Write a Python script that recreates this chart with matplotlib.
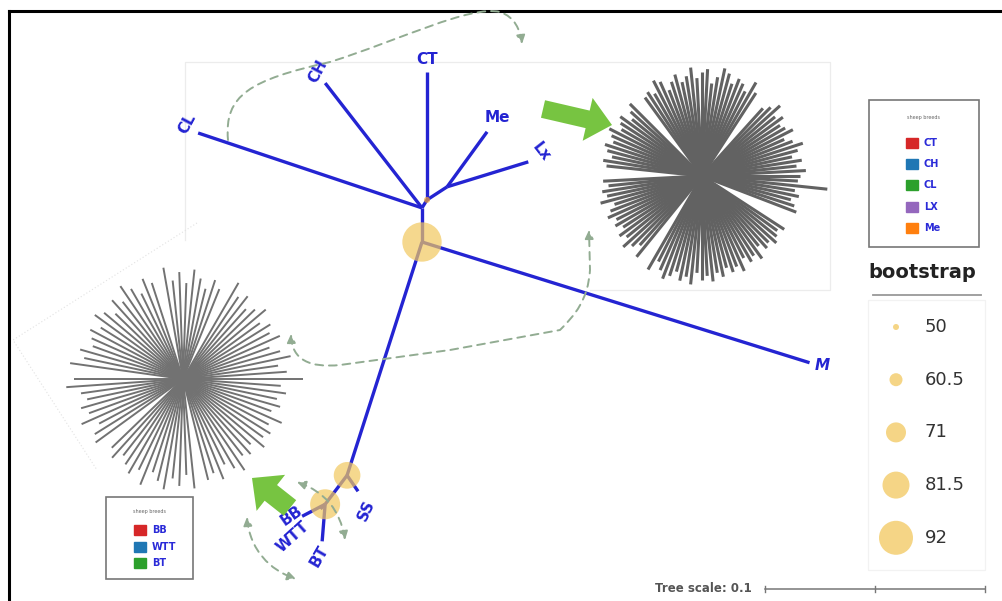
import numpy as np
import matplotlib
matplotlib.use("Agg")
import matplotlib.pyplot as plt
from matplotlib.patches import Circle, Rectangle, FancyArrowPatch
from matplotlib.path import Path

# unrooted tree of the sheep breeds (branch lengths in substitutions/site)
branch_parent = ['B', 'B', 'A', 'A', 'A', 'E', 'E', 'F', 'F', 'B', 'C', 'C', 'D', 'D', 'D']
branch_child = ['M', 'A', 'CL', 'CH', 'E', 'CT', 'F', 'Me', 'Lx', 'C', 'SS', 'D', 'BB', 'WTT', 'BT']
branch_length = [0.1845, 0.0155, 0.1073, 0.0718, 0.0043, 0.0582, 0.0109, 0.0309,
                 0.0386, 0.1114, 0.0088, 0.0165, 0.0118, 0.003, 0.0169]
branch_angle = [-17.3, 90, 161.5, 127.8, 58, 90, 33, 54, 17.1, -107.8, -55.5, -127.2,
                -152.4, -135, -94.6]

support_nodes = ['B', 'E', 'C', 'D']
support_values = [100, 50, 81, 86]

legend_support = [50, 60.5, 71, 81.5, 92]

breeds_top = ['CT', 'CH', 'CL', 'LX', 'Me']
breeds_bottom = ['BB', 'WTT', 'BT']
breed_colors = ['#d62728', '#1f77b4', '#2ca02c', '#9467bd', '#ff7f0e']

# leaf lengths of the two within-group subtrees (px, evenly spread round the centre;
# 0 = empty slot between clades)
star_right = [98, 104, 95, 101, 92, 99, 106, 97, 90, 102, 96, 93,
              100, 94, 105, 97, 91, 0, 0, 99, 108, 95, 101, 104,
              97, 106, 110, 100, 93, 107, 104, 98, 109, 101, 96, 105,
              99, 92, 103, 107, 95, 100, 97, 0, 0, 102, 96, 90,
              101, 97, 93, 104, 99, 95, 102, 98, 92, 100, 96, 0,
              0, 99, 94, 101, 97, 105, 92, 98, 103, 96, 100, 94,
              102, 97, 106, 99, 93, 104, 0, 0, 108, 96, 103, 110,
              105, 99, 107, 102, 109, 97, 104, 100, 106, 98, 103, 95,
              101, 97, 104, 92, 99, 95, 102, 90, 97, 94, 100, 96,
              93, 98, 0, 0, 0, 101, 97, 92, 99, 94, 126, 96]
star_left = [120, 104, 96, 110, 101, 92, 106, 98, 103, 95,
             108, 100, 94, 105, 99, 111, 0, 97, 104, 93,
             102, 110, 96, 107, 99, 113, 0, 101, 108, 95,
             104, 112, 98, 106, 94, 103, 109, 97, 105, 100,
             96, 107, 101, 114, 0, 109, 117, 103, 98, 106,
             100, 111, 95, 104, 108, 0, 99, 106, 97, 103,
             109, 101, 114, 98, 105, 112, 100, 107, 96, 110,
             0, 104, 99, 108, 95, 103, 110, 97, 101, 94,
             106, 99, 103, 97, 108, 94, 101, 96, 104, 98]

PX = 2200.0          # pixels per unit of branch length (0.1 -> 220 px)
ROOT = (422, 242)
BLUE = '#2424d2'
GOLD = '#f2c85e'
DASH = '#92ac92'


def support_radius(b):
    return 3 + (b - 50) / 42.0 * 14


fig = plt.figure(figsize=(10.03, 6.01), dpi=100)
ax = fig.add_axes([0, 0, 1, 1])
ax.set_xlim(0, 1003)
ax.set_ylim(601, 0)
ax.set_aspect('equal')
ax.axis('off')

# outer frame
ax.plot([9.5, 9.5], [601, 10.5], color='black', lw=2.2)
ax.plot([9.5, 1003], [10.5, 10.5], color='black', lw=2.2)

# faint panel outlines
faint = '#ececec'
ax.plot([185, 185, 830, 830, 590], [240, 62, 62, 290, 290], color=faint, lw=0.9)
ax.plot([197, 13, 97], [223, 340, 470], color='#e2e2e2', lw=0.8, ls=(0, (1, 2)))
ax.add_patch(Rectangle((868, 300), 117, 270, fill=False, ec='#f2f2f2', lw=0.9))

# --- main tree ---
pos = {'B': ROOT}
for p, c, L, a in zip(branch_parent, branch_child, branch_length, branch_angle):
    x0, y0 = pos[p]
    r = L * PX
    x1 = x0 + r * np.cos(np.radians(a))
    y1 = y0 - r * np.sin(np.radians(a))
    pos[c] = (x1, y1)
    ax.plot([x0, x1], [y0, y1], color=BLUE, lw=2.4, solid_capstyle='butt', zorder=3)

for n, b in zip(support_nodes, support_values):
    col = '#f0a030' if b <= 50 else GOLD
    ax.add_patch(Circle(pos[n], support_radius(b), color=col, alpha=0.7, lw=0, zorder=4))

leaf_labels = ['CL', 'CH', 'CT', 'Me', 'Lx', 'M', 'SS', 'BB', 'WTT', 'BT']
label_xy = [(187, 124), (318, 71), (427, 60), (497, 118), (541, 152),
            (822, 366), (366, 510), (292, 516), (293, 537), (319, 556)]
label_rot = [62, 62, 0, 0, -52, 0, 65, 35, 42, 60]
for t, (x, y), r in zip(leaf_labels, label_xy, label_rot):
    ax.text(x, y, t, color=BLUE, fontsize=11, fontweight='bold', rotation=r,
            style='italic' if t == 'M' else 'normal',
            ha='center', va='center', rotation_mode='anchor', zorder=5)

# --- within-group subtrees ---
def draw_star(cx, cy, lengths, color, lw):
    ang = np.linspace(0, 2 * np.pi, len(lengths), endpoint=False)
    for a, L in zip(ang, lengths):
        if L == 0:
            continue
        ax.plot([cx, cx + L * np.cos(a)], [cy, cy - L * np.sin(a)],
                color=color, lw=lw, solid_capstyle='butt', zorder=2)

draw_star(702, 176, star_right, '#626262', 2.2)
draw_star(183, 379, star_left, '#727272', 1.4)

# --- big green arrows ---
ax.arrow(543, 109, 69, 16, width=18, head_width=44, head_length=25,
         length_includes_head=True, color='#77c441', lw=0, zorder=5)
ax.arrow(290, 508, -38, -30, width=20, head_width=46, head_length=24,
         length_includes_head=True, color='#77c441', lw=0, zorder=5)

# --- dashed guide arrows ---
C4 = Path.CURVE4
guides = [
    ([(228, 140), (224, 95), (250, 80), (330, 62), (400, 40), (470, 5), (500, 12),
      (515, 17), (520, 30), (522, 44)],
     [Path.MOVETO, C4, C4, C4, C4, C4, C4, C4, C4, C4], '-|>'),
    ([(291, 334), (292, 360), (310, 368), (340, 365), (450, 350), (560, 330),
      (575, 315), (588, 300), (590, 270), (589, 230)],
     [Path.MOVETO, C4, C4, C4, Path.LINETO, Path.LINETO, C4, C4, C4, Path.LINETO], '<|-|>'),
    ([(297, 482), (325, 492), (340, 510), (345, 540)],
     [Path.MOVETO, C4, C4, C4], '<|-|>'),
    ([(247, 517), (250, 550), (270, 570), (296, 579)],
     [Path.MOVETO, C4, C4, C4], '<|-|>'),
]
for verts, codes, style in guides:
    ax.add_patch(FancyArrowPatch(path=Path(verts, codes),
                                 arrowstyle=style + ',head_length=5,head_width=2.5',
                                 color=DASH, lw=1.4, ls=(0, (4, 3)), zorder=6))

# --- breed legends ---
def breed_box(x, y, w, h, names, row0, dy, title_y):
    ax.add_patch(Rectangle((x, y), w, h, fill=False, ec='#777777', lw=1.2, zorder=5))
    ax.text(x + w / 2, title_y, 'sheep breeds', fontsize=3.5, color='#666666',
            ha='center', va='center')
    for i, (n, c) in enumerate(zip(names, breed_colors)):
        yy = row0 + i * dy
        ax.add_patch(Rectangle((x + w * 0.39 - 6, yy - 5), 12, 10, color=c, zorder=6))
        ax.text(x + w * 0.39 + 12, yy, n, fontsize=7, fontweight='bold',
                color='#2a2ad8', ha='left', va='center')

breed_box(869, 100, 110, 147, breeds_top, 143, 21.2, 118)
breed_box(106, 497, 87, 82, breeds_bottom, 530, 16.5, 511)

# --- bootstrap size legend ---
ax.text(922, 273, 'bootstrap', fontsize=14, fontweight='bold', color='#222222',
        ha='center', va='center')
ax.plot([873, 981], [295, 295], color='#999999', lw=1.3)
for i, b in enumerate(legend_support):
    yy = 327 + i * 52.7
    ax.add_patch(Circle((896, yy), support_radius(b), color=GOLD, alpha=0.75, lw=0))
    ax.text(925, yy, f'{b:g}', fontsize=13, color='#333333', ha='left', va='center')

# tree scale bar
ax.text(655, 588, 'Tree scale: 0.1', fontsize=8.5, color='#555555', fontweight='bold',
        ha='left', va='center')
sx = np.array([0.0, 0.05, 0.1]) * PX + 765
ax.plot([sx[0], sx[-1]], [589, 589], color='#777777', lw=1.1)
for x in sx:
    ax.plot([x, x], [586, 592], color='#777777', lw=1)

fig.savefig('out.png', dpi=100)
